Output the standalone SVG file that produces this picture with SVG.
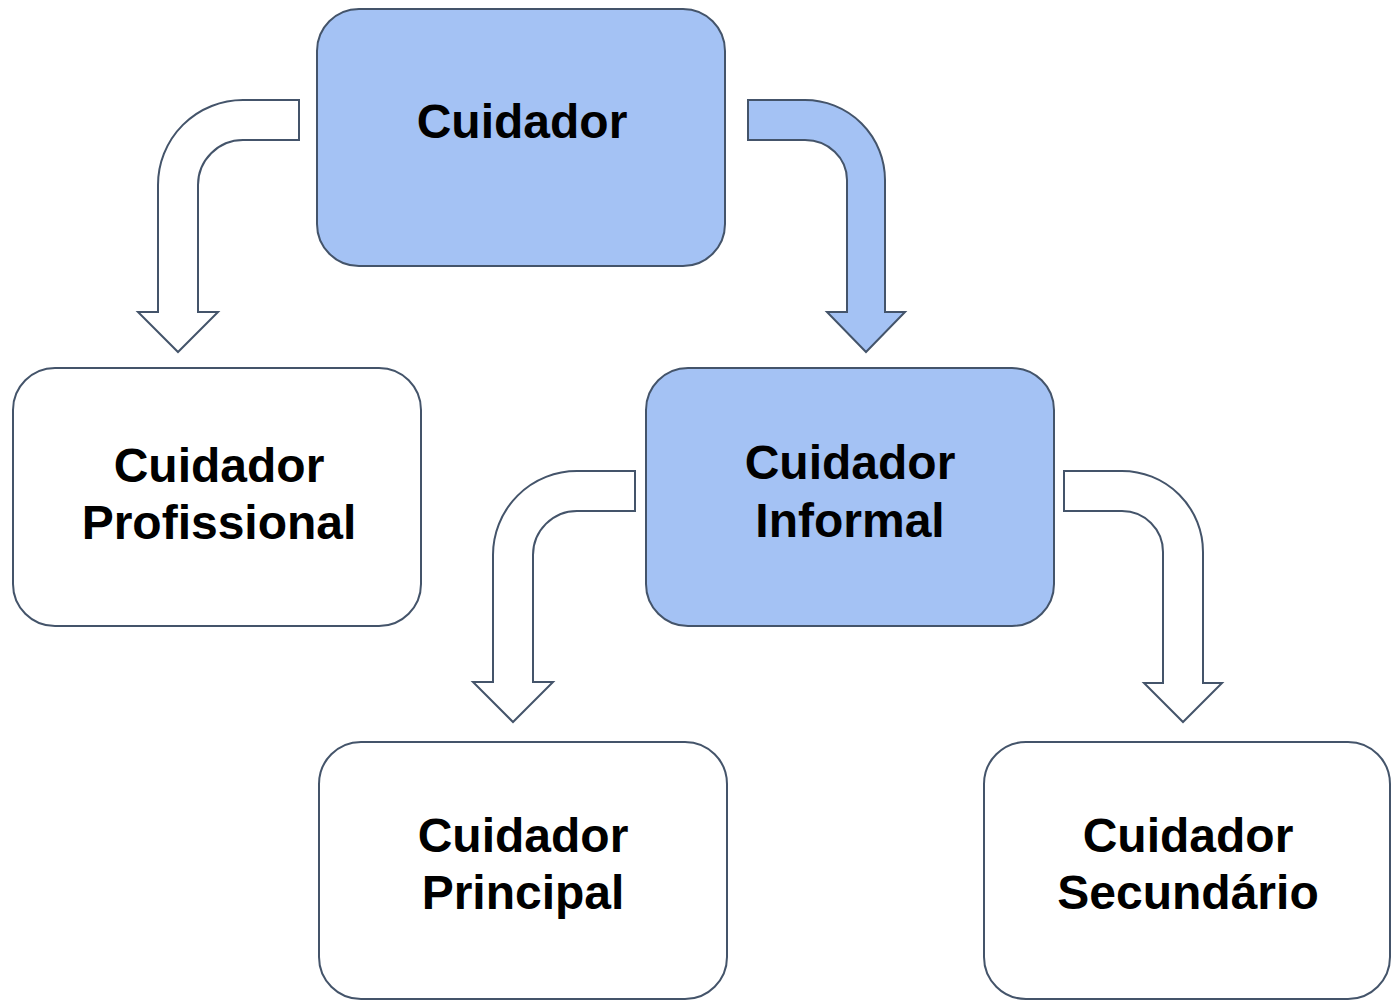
<svg xmlns="http://www.w3.org/2000/svg" width="1397" height="1001" viewBox="0 0 1397 1001">
<style>
.box{stroke:#44546a;stroke-width:2}
.blue{fill:#a4c2f4}
.white{fill:#ffffff}
.arr{stroke:#44546a;stroke-width:2;stroke-linejoin:miter}
text{font-family:"Liberation Sans",Arial,sans-serif;font-weight:bold;font-size:48px;fill:#000;text-anchor:middle}
</style>
<rect width="1397" height="1001" fill="#ffffff"/>
<g id="connectors">
<path class="arr white" d="M299,100 L243,100 A85,85 0 0 0 158,185 L158,312 L138,312 L178,352 L218,312 L198,312 L198,185 A45,45 0 0 1 243,140 L299,140 Z"/>
<path class="arr blue" d="M748,100 L805,100 A80,80 0 0 1 885,180 L885,312 L905,312 L866,352 L827,312 L847,312 L847,180 A42,40 0 0 0 805,140 L748,140 Z"/>
<path class="arr white" d="M635,471 L577,471 A84,84 0 0 0 493,555 L493,682 L473,682 L513,722 L553,682 L533,682 L533,555 A44,44 0 0 1 577,511 L635,511 Z"/>
<path class="arr white" d="M1064,471 L1122,471 A81,81 0 0 1 1203,552 L1203,683 L1222,683 L1183,722 L1144,683 L1163,683 L1163,552 A41,41 0 0 0 1122,511 L1064,511 Z"/>
</g>
<g id="cuidador">
<rect class="box blue" x="317" y="9" width="408" height="257" rx="42" ry="42"/>
<text x="522" y="138">Cuidador</text>
</g>
<g id="profissional">
<rect class="box white" x="13" y="368" width="408" height="258" rx="42" ry="42"/>
<text x="219" y="482">Cuidador</text>
<text x="219" y="539">Profissional</text>
</g>
<g id="informal">
<rect class="box blue" x="646" y="368" width="408" height="258" rx="42" ry="42"/>
<text x="850" y="479">Cuidador</text>
<text x="850" y="537">Informal</text>
</g>
<g id="principal">
<rect class="box white" x="319" y="742" width="408" height="257" rx="42" ry="42"/>
<text x="523" y="852">Cuidador</text>
<text x="523" y="909">Principal</text>
</g>
<g id="secundario">
<rect class="box white" x="984" y="742" width="406" height="257" rx="42" ry="42"/>
<text x="1188" y="852">Cuidador</text>
<text x="1188" y="909">Secundário</text>
</g>
</svg>
